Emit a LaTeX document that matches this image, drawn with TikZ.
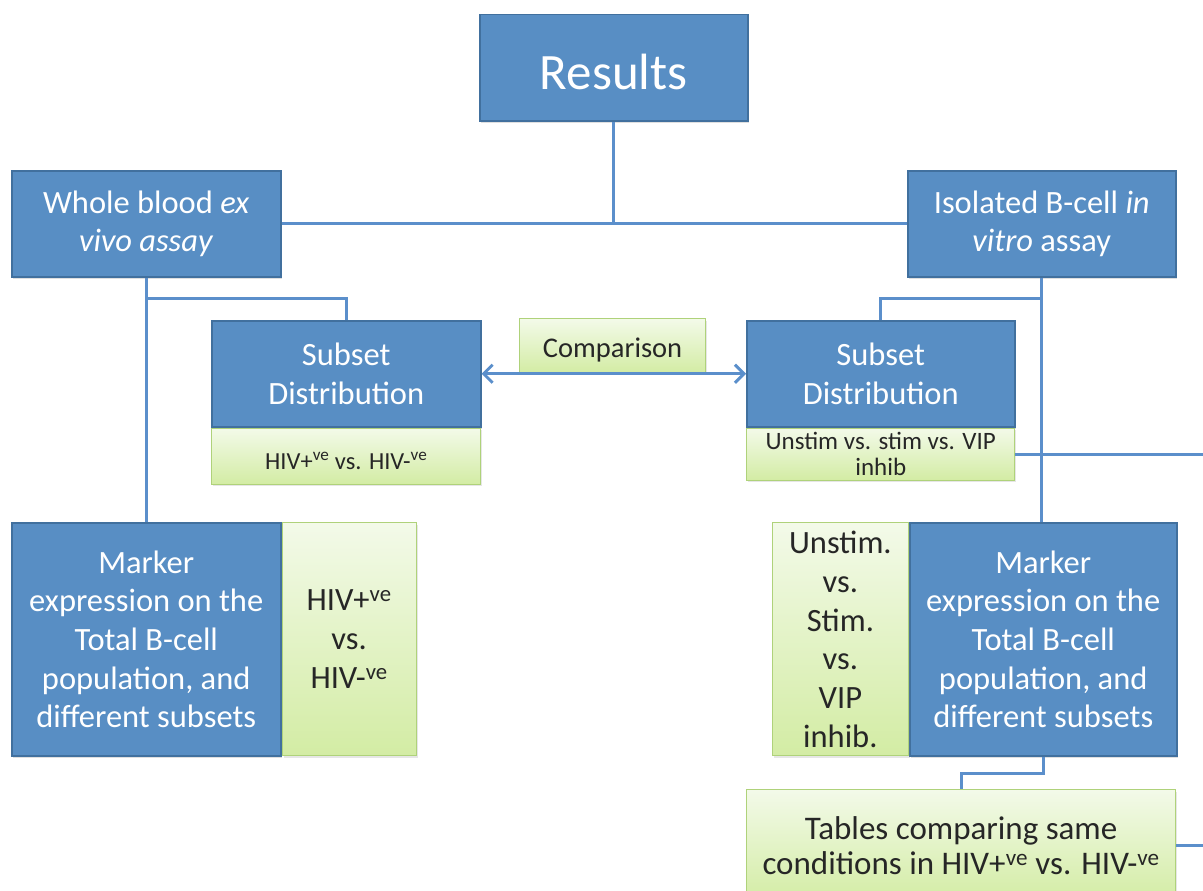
\documentclass[tikz,border=0pt]{standalone}
\usepackage{fontspec}
\setmainfont{Carlito}
\usepackage{xcolor}
\usepackage{tikz}
\usetikzlibrary{positioning, arrows.meta, shadows}

\definecolor{boxblue}{HTML}{588EC4}
\definecolor{boxedge}{HTML}{41709E}
\definecolor{greentop}{HTML}{F3FAE9}
\definecolor{greenbot}{HTML}{D3ECA4}
\definecolor{greenedge}{HTML}{AFD27A}
\definecolor{linkblue}{HTML}{5B8FCB}

\begin{document}
\begin{tikzpicture}[
    x=1pt, y=-1pt,
    bluebox/.style={rectangle, draw=boxedge, line width=1.5pt, fill=boxblue, text=white, align=center, inner sep=2pt, anchor=north west,
        drop shadow={opacity=0.25, shadow xshift=1.5pt, shadow yshift=-2pt}},
    greenbox/.style={rectangle, draw=greenedge, line width=1.2pt, top color=greentop, bottom color=greenbot, text=black!85, align=center, inner sep=2pt,
        drop shadow={opacity=0.2, shadow xshift=1.5pt, shadow yshift=-2pt}},
    link/.style={draw=linkblue, line width=3pt},
    big_font/.style={font=\fontsize{32.5}{38.7}\selectfont},
    small_font/.style={font=\fontsize{24.5}{28}\selectfont},
    node distance=0pt
]
    \clip (0,0) rectangle (1203,891);

    % Top level
    \node[bluebox, minimum width=268pt, minimum height=106pt, font=\fontsize{51}{58}\selectfont] (results) at (479,14) {\raisebox{-4pt}[\height][\depth]{Results}};
    \node[bluebox, big_font, minimum width=269pt, minimum height=106pt] (whole) at (11,170) {Whole blood \emph{ex}\\\emph{vivo assay}};
    \node[bluebox, big_font, minimum width=268pt, minimum height=106pt] (isolated) at (907,170) {Isolated B-cell \emph{in}\\\emph{vitro} assay};

    % Subset distribution
    \node[bluebox, big_font, minimum width=269pt, minimum height=106pt] (subL) at (211,320) {Subset\\Distribution};
    \node[greenbox, small_font, minimum width=269pt, minimum height=56pt, below=of subL] (subLstrip) {\raisebox{-5pt}[\height][\depth]{HIV+\textsuperscript{ve} vs. HIV-\textsuperscript{ve}}};
    \node[bluebox, big_font, minimum width=268pt, minimum height=106pt] (subR) at (746,320) {Subset\\Distribution};
    \node[greenbox, font=\fontsize{25}{26}\selectfont, minimum width=268pt, minimum height=52pt, inner sep=0pt, below=of subR] (subRstrip) {Unstim vs. stim vs. VIP\\inhib};
    \node[greenbox, font=\fontsize{28.5}{30}\selectfont, minimum width=186pt, minimum height=54pt, anchor=north west] (comp) at (519,318) {\raisebox{-4pt}[\height][\depth]{Comparison}};

    % Marker expression
    \node[bluebox, big_font, minimum width=269pt, minimum height=233pt] (markL) at (11,522) {Marker\\expression on the\\Total B-cell\\population, and\\different subsets};
    \node[greenbox, big_font, minimum width=134pt, minimum height=233pt, right=of markL] (markLside) {HIV+\textsuperscript{ve}\\vs.\\HIV-\textsuperscript{ve}};
    \node[bluebox, big_font, minimum width=267pt, minimum height=233pt] (markR) at (909,522) {Marker\\expression on the\\Total B-cell\\population, and\\different subsets};
    \node[greenbox, big_font, minimum width=136pt, minimum height=233pt, left=of markR] (markRside) {Unstim.\\vs.\\Stim.\\vs.\\VIP\\inhib.};

    % Tables
    \node[greenbox, font=\fontsize{33}{35.5}\selectfont, minimum width=429pt, minimum height=112pt, anchor=north west] (tables) at (746,789) {Tables comparing same\\conditions in HIV+\textsuperscript{ve} vs. HIV-\textsuperscript{ve}};

    \coordinate (edge) at (1210,0);

    % Connectors
    \draw[link] (results.south) -- (results.south |- whole.east);
    \draw[link] (whole.east) -- (isolated.west);
    \draw[link] (whole.south) -- (markL.north);
    \draw[link] (whole.south |- 0,298) -| (subL.north);
    \draw[link] (isolated.south) -- (isolated.south |- markR.north);
    \draw[link] (isolated.south |- 0,298) -| (subR.north);
    \draw[link, {Straight Barb[length=9pt, width=18pt]}-{Straight Barb[length=9pt, width=18pt]}] (subL.east) -- (subR.west);
    \draw[link] (subRstrip.east) -- (subRstrip.east -| edge);
    \draw[link] (markR.south) -- ++(0,17) -| (tables.north);
    \draw[link] (tables.east) -- (tables.east -| edge);
\end{tikzpicture}
\end{document}
